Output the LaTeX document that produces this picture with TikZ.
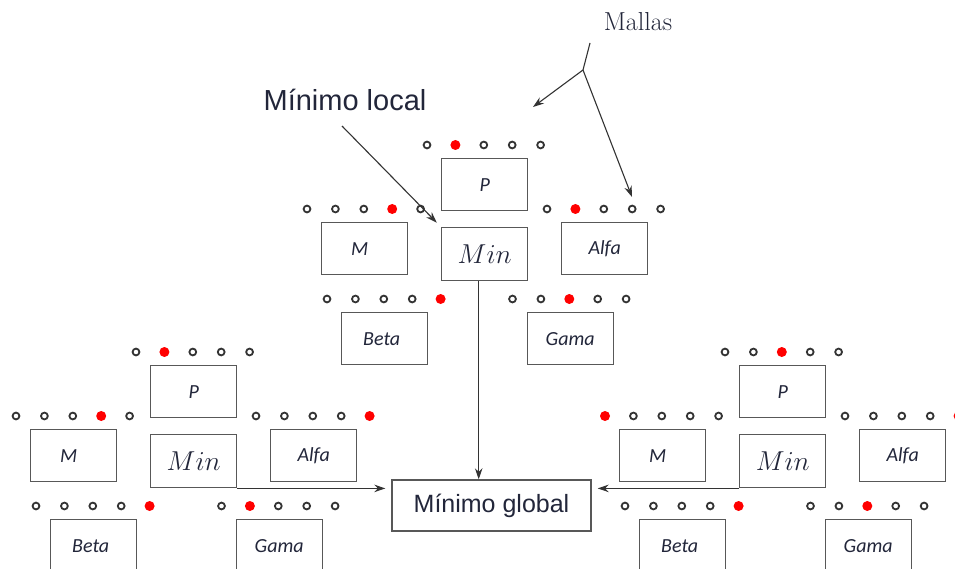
\documentclass[tikz,border=0pt]{standalone}
\usepackage{fontspec}
\newfontfamily\etiq{Carlito}
\newfontfamily\arial{Liberation Sans}
\usetikzlibrary{arrows.meta,calc}
\definecolor{borde}{HTML}{585858}
\definecolor{punto}{HTML}{333333}
\definecolor{rojo}{HTML}{FF0000}
\definecolor{tinta}{HTML}{22263A}
\newcommand\minimo{\scalebox{1.1}{$Min$}}
\tikzset{
  caja/.style={draw=borde, line width=1.4pt, minimum width=86pt, minimum height=52pt,
    inner sep=0pt, anchor=north west, text=tinta,
    font=\etiq\itshape\fontsize{20}{24}\selectfont},
  cajamin/.style={caja, minimum height=53pt, font=\fontsize{24.88}{30}\selectfont},
  flecha/.style={draw=punto, line width=1.1pt, -{Stealth[length=11pt,width=7.5pt]}},
  linea/.style={draw=punto, line width=1.1pt},
  anillo/.style={draw=punto, line width=1.8pt},
}
% row of five grid points above a box; #2 is the position of the red one
\newcommand\fila[2]{%
  \foreach \k in {1,...,5}{%
    \ifnum\k=#2\relax
      \fill[rojo] ($(#1.north west)+(-14+28.4*\k-28.4,-13)$) circle (5pt);
    \else
      \draw[anillo] ($(#1.north west)+(-14+28.4*\k-28.4,-13)$) circle (3.4pt);
    \fi}}
% one group of six boxes: prefix, origin x, origin y, red positions for P, M, Alfa, Beta, Gama
\newcommand\grupo[8]{%
  \begin{scope}[shift={(#2,#3)}]
    \node[caja] (#1P) at (0,0) {P};
    \node[caja] (#1M) at (-120,64) {\hspace*{-10pt}M};
    \node[cajamin] (#1Min) at (0,69) {\minimo};
    \node[caja] (#1A) at (120,64) {Alfa};
    \node[caja] (#1B) at (-100,154) {\hspace*{-6pt}Beta};
    \node[caja] (#1G) at (85.5,154) {Gama};
  \end{scope}
  \fila{#1P}{#4}\fila{#1M}{#5}\fila{#1A}{#6}\fila{#1B}{#7}\fila{#1G}{#8}}

\begin{document}
\begin{tikzpicture}[x=1pt,y=-1pt]
  \fill[white] (0,0) rectangle (955,569);
  \useasboundingbox (0,0) rectangle (955,569);

  \grupo{t}{441}{158}{2}{4}{2}{5}{3}
  \grupo{l}{150}{365}{2}{4}{5}{5}{2}
  \grupo{r}{739}{365}{3}{1}{5}{5}{3}

  \node[draw=borde, line width=1.4pt, minimum width=199pt, minimum height=51pt,
        inner sep=0pt, text=tinta, font=\arial\fontsize{25}{30}\selectfont]
        (global) at (491.5,505.5) {Mínimo global};

  % labels
  \node[text=tinta, font=\arial\fontsize{29}{34}\selectfont] (local) at (345,100) {Mínimo local};
  \node[text=tinta, font=\fontsize{26}{30}\selectfont] (mallas) at (638,22) {Mallas};

  % pointers from the labels
  \coordinate (lp) at (342,126);
  \draw[flecha, shorten >=6pt] (lp) -- (tMin.north west);
  \coordinate (ms) at (590,43);
  \coordinate (mj) at (583,70);
  \coordinate (mp1) at (533,107);
  \coordinate (mp2) at (632,197);
  \draw[linea] (ms) -- (mj);
  \draw[flecha] (mj) -- (mp1);
  \draw[flecha] (mj) -- (mp2);

  % local minima feeding the global minimum
  \coordinate (vx) at ($(tMin.south)+(-6,0)$);
  \draw[flecha] (vx) -- (vx |- global.north);
  \draw[flecha, shorten >=6pt] (lMin.south east) -- (lMin.south east -| global.west);
  \draw[flecha, shorten >=6pt] (rMin.south west) -- (rMin.south west -| global.east);
\end{tikzpicture}
\end{document}
